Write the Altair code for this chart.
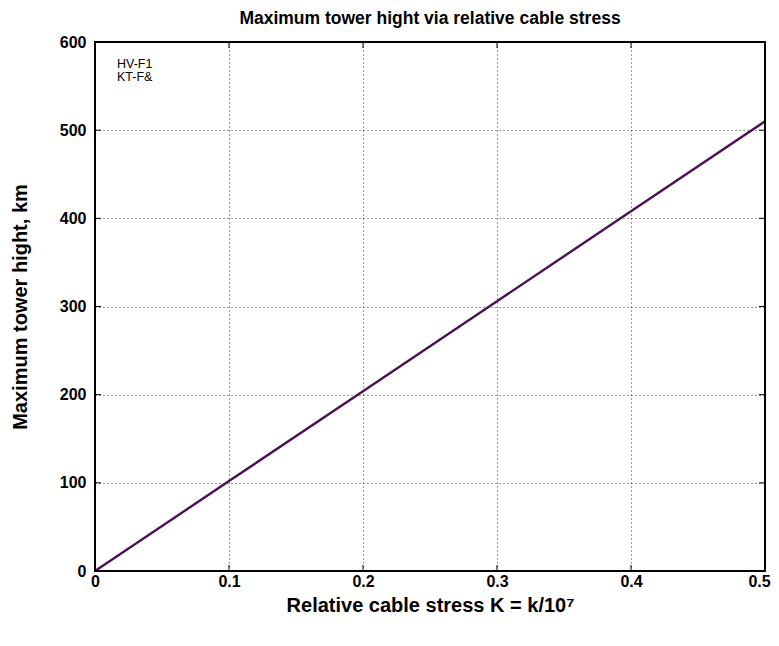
import altair as alt
import pandas as pd

K = [0.0, 0.1, 0.2, 0.3, 0.4, 0.5]
H = [0, 102, 204, 306, 408, 510]
x_ticks = [0, 0.1, 0.2, 0.3, 0.4, 0.5]
y_ticks = [0, 100, 200, 300, 400, 500, 600]
legend_labels = ["HV-F1", "KT-F&"]

W, HH = 670, 529
FONT = "Liberation Sans"

df = pd.DataFrame({"K": K, "H": H})

xs = alt.Scale(domain=[0, 0.5], nice=False)
ys = alt.Scale(domain=[0, 600], nice=False)

line = alt.Chart(df).mark_line(color="#4b1252", strokeWidth=2.4).encode(
    x=alt.X("K:Q", scale=xs, axis=alt.Axis(
        values=x_ticks, format="~g", title="Relative cable stress K = k/10⁷",
        grid=True, gridColor="black", gridDash=[1, 3], gridOpacity=0.8,
        ticks=False, labelPadding=2, domain=False, labelFlush=False,
        labelOffset={"condition": {"test": "datum.value == 0.5", "value": -6}, "value": 0},
        labelFont=FONT, labelFontSize=16, labelFontWeight="bold", labelColor="black",
        titleFont=FONT, titleFontSize=20, titleFontWeight="bold", titleColor="black",
        titlePadding=6)),
    y=alt.Y("H:Q", scale=ys, axis=alt.Axis(
        values=y_ticks, title="Maximum tower hight, km",
        grid=True, gridColor="black", gridDash=[1, 3], gridOpacity=0.8,
        ticks=False, labelPadding=9, domain=False, labelFlush=False,
        labelFont=FONT, labelFontSize=16, labelFontWeight="bold", labelColor="black",
        titleFont=FONT, titleFontSize=20, titleFontWeight="bold", titleColor="black",
        titlePadding=29)),
)

xt = pd.DataFrame({"v": x_ticks})
yt = pd.DataFrame({"v": y_ticks})
tl = 6
xticks_b = alt.Chart(xt).mark_rule(color="black", strokeWidth=1).encode(
    x=alt.X("v:Q", scale=xs), y=alt.value(HH), y2=alt.value(HH - tl))
xticks_t = alt.Chart(xt).mark_rule(color="black", strokeWidth=1).encode(
    x=alt.X("v:Q", scale=xs), y=alt.value(0), y2=alt.value(tl))
yticks_l = alt.Chart(yt).mark_rule(color="black", strokeWidth=1).encode(
    y=alt.Y("v:Q", scale=ys), x=alt.value(0), x2=alt.value(tl))
yticks_r = alt.Chart(yt).mark_rule(color="black", strokeWidth=1).encode(
    y=alt.Y("v:Q", scale=ys), x=alt.value(W), x2=alt.value(W - tl))

frame = alt.Chart(pd.DataFrame({"a": [0]})).mark_rect(
    fill=None, fillOpacity=0, stroke="black", strokeWidth=2
).encode(x=alt.value(0), x2=alt.value(W), y=alt.value(0), y2=alt.value(HH))

leg1 = alt.Chart(pd.DataFrame({"t": [legend_labels[0]]})).mark_text(
    align="left", baseline="top", font=FONT, fontSize=12.5, color="black"
).encode(text="t:N", x=alt.value(22), y=alt.value(16))
leg2 = alt.Chart(pd.DataFrame({"t": [legend_labels[1]]})).mark_text(
    align="left", baseline="top", font=FONT, fontSize=12.5, color="black"
).encode(text="t:N", x=alt.value(22), y=alt.value(29))

chart = alt.layer(
    line, xticks_b, xticks_t, yticks_l, yticks_r, frame, leg1, leg2
).properties(
    width=W, height=HH,
    title=alt.Title("Maximum tower hight via relative cable stress",
                    font=FONT, fontSize=17.5, fontWeight="bold", color="black", offset=7),
    autosize=alt.AutoSizeParams(type="none"),
    padding={"left": 87, "top": 34, "right": 6, "bottom": 60},
).configure_view(stroke=None).configure(background="white")

chart.save("out.html", embed_options={"renderer": "svg", "actions": False})
